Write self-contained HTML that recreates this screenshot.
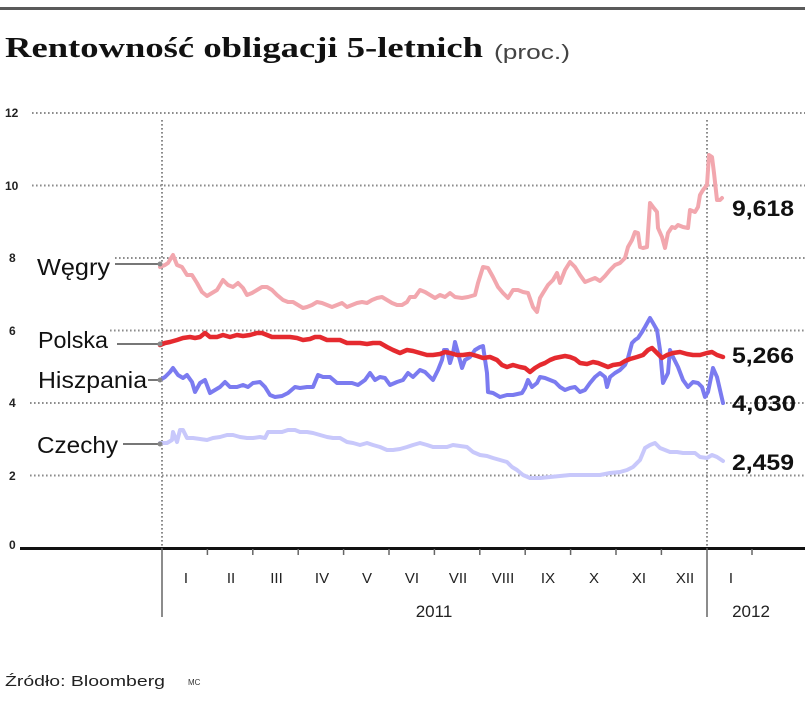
<!DOCTYPE html>
<html><head><meta charset="utf-8"><style>
html,body{margin:0;padding:0;background:#fff;}
svg{display:block;}
</style></head><body>
<svg width="805" height="706" viewBox="0 0 805 706" xmlns="http://www.w3.org/2000/svg">
<rect x="0" y="0" width="805" height="706" fill="#fff"/>
<rect x="0" y="7" width="805" height="3" fill="#5a5a5a"/>
<text x="5" y="57" font-family="Liberation Serif, serif" font-weight="bold" font-size="29" fill="#111" textLength="478" lengthAdjust="spacingAndGlyphs">Rentowność obligacji 5-letnich</text>
<text x="494" y="59" font-family="Liberation Sans, sans-serif" font-size="20" fill="#444" textLength="76" lengthAdjust="spacingAndGlyphs">(proc.)</text>

<g stroke="#8c8c8c" stroke-width="2" stroke-dasharray="1.6 2.4" fill="none">
<line x1="32" y1="113" x2="805" y2="113"/>
<line x1="32" y1="185.5" x2="805" y2="185.5"/>
<line x1="115" y1="258" x2="805" y2="258"/>
<line x1="110" y1="330.5" x2="805" y2="330.5"/>
<line x1="30" y1="403" x2="805" y2="403"/>
<line x1="30" y1="475.5" x2="805" y2="475.5"/>
<line x1="162" y1="120" x2="162" y2="548"/>
<line x1="707" y1="120" x2="707" y2="548"/>
</g>

<g font-family="Liberation Sans, sans-serif" font-weight="bold" font-size="12" fill="#222">
<text x="5" y="117">12</text>
<text x="5" y="190">10</text>
<text x="9" y="262">8</text>
<text x="9" y="335">6</text>
<text x="9" y="407">4</text>
<text x="9" y="480">2</text>
<text x="9" y="549">0</text>
</g>

<g fill="none" stroke-linejoin="round" stroke-linecap="round">
<polyline stroke="#f2a7ae" stroke-width="4" points="160,267 165,265 168,263 173,255 177,265 182,267 187,275 192,275 197,283 202,292 207,296 212,293 217,290 223,280 228,285 233,287 238,283 243,288 247,295 252,293 257,290 262,287 267,287 272,290 277,295 283,300 288,302 293,302 298,305 303,308 307,307 312,305 317,302 322,303 327,305 332,307 337,305 342,303 347,307 352,305 357,303 362,302 367,303 372,300 377,298 382,297 387,300 392,303 397,305 402,305 407,302 410,297 415,297 420,290 425,292 430,295 435,298 440,295 445,297 450,293 455,297 462,298 468,297 475,295 478,283 483,267 488,268 493,277 498,287 503,293 508,298 513,290 518,290 523,292 528,293 533,307 537,312 540,298 543,293 548,285 553,280 557,273 560,283 565,270 570,262 575,267 580,275 585,282 590,280 595,278 600,281 605,276 610,270 615,265 620,263 625,258 628,247 632,240 635,232 638,233 640,247 643,248 647,247 650,203 653,207 657,212 658,228 662,237 665,248 668,233 672,227 675,228 678,225 683,227 688,228 690,210 695,212 698,207 700,195 703,190 707,185 709,155 712,157 714,173 717,200 720,200 722,198"/>
<polyline stroke="#c8c8fb" stroke-width="4" points="160,443 167,443 172,440 173,432 177,442 180,430 183,430 187,438 193,438 200,439 207,440 213,438 220,437 227,435 233,435 240,437 247,438 253,438 260,437 265,438 268,432 275,432 282,432 288,430 295,430 300,432 307,432 313,433 320,435 327,437 333,438 340,438 347,442 353,443 360,445 367,443 373,445 380,447 387,450 393,450 400,449 407,447 413,445 420,443 427,445 433,447 440,447 447,447 453,445 460,446 467,447 473,452 480,455 487,456 493,458 500,460 507,462 512,467 517,470 523,475 530,478 540,478 550,477 560,476 570,475 580,475 590,475 600,475 610,473 620,472 627,470 633,467 640,460 645,448 650,445 655,443 660,448 665,450 670,452 677,452 683,453 690,453 695,453 700,457 707,458 712,455 717,457 723,461"/>
<polyline stroke="#7b7bf0" stroke-width="4" points="160,380 165,377 170,372 173,368 178,375 183,378 187,375 192,382 195,392 200,383 205,380 210,393 215,390 220,387 225,382 230,387 237,387 243,385 248,387 253,383 260,382 265,387 270,395 275,397 282,396 288,393 295,387 300,388 307,387 313,387 318,375 323,377 330,377 337,383 345,383 352,383 358,385 365,380 370,373 375,380 380,377 385,378 390,385 397,382 403,380 408,373 413,377 420,370 425,372 430,377 433,380 438,370 442,360 444,350 447,350 450,363 453,353 455,342 458,353 462,368 465,360 470,357 475,350 480,347 483,346 487,373 488,392 493,393 500,397 507,395 513,395 522,393 525,388 528,380 532,387 537,383 540,377 545,378 550,380 555,382 560,387 565,390 570,388 575,387 580,392 585,390 590,383 595,377 600,373 605,377 607,387 610,377 615,373 620,370 625,365 628,358 632,343 635,340 638,338 642,332 645,327 650,318 653,323 657,330 660,350 663,383 668,373 670,350 673,357 678,367 683,380 688,387 693,382 698,383 702,387 705,397 708,392 713,368 717,377 720,390 723,403"/>
<polyline stroke="#e52a2f" stroke-width="4.5" points="160,345 165,343 170,342 177,340 183,338 190,337 195,338 200,337 205,333 210,337 217,337 223,335 230,337 237,335 243,336 250,335 257,333 262,333 267,335 272,337 277,337 283,337 290,337 297,338 303,340 310,339 315,337 320,337 327,340 333,340 340,340 347,343 353,343 360,343 367,344 373,343 380,343 387,347 393,350 400,353 407,350 413,351 420,353 427,355 433,355 440,354 445,352 450,353 457,355 463,355 470,354 477,356 483,358 490,357 497,360 502,365 507,367 513,365 520,367 525,368 530,372 535,368 540,365 545,363 550,360 555,358 560,357 565,356 570,357 575,359 580,363 587,364 593,362 598,363 603,365 608,367 613,365 620,364 625,361 630,359 637,357 643,355 648,350 652,348 657,353 662,358 667,355 673,353 680,352 687,354 693,355 700,355 707,353 712,352 717,355 723,357"/>
</g>

<g stroke="#777" stroke-width="2" fill="none">
<line x1="115" y1="264" x2="158" y2="264"/>
<line x1="117" y1="344" x2="158" y2="344"/>
<line x1="148" y1="380" x2="158" y2="380"/>
<line x1="123" y1="444" x2="158" y2="444"/>
</g>
<g fill="#888">
<circle cx="160" cy="264" r="2.5"/>
<circle cx="160" cy="344" r="2.5"/>
<circle cx="160" cy="380" r="2.5"/>
<circle cx="160" cy="444" r="2.5"/>
</g>

<g font-family="Liberation Sans, sans-serif" font-size="23" fill="#111">
<text x="37" y="275" textLength="73" lengthAdjust="spacingAndGlyphs">Węgry</text>
<text x="38" y="348" textLength="70" lengthAdjust="spacingAndGlyphs">Polska</text>
<text x="38" y="388" textLength="109" lengthAdjust="spacingAndGlyphs">Hiszpania</text>
<text x="37" y="453" textLength="81" lengthAdjust="spacingAndGlyphs">Czechy</text>
</g>

<g font-family="Liberation Sans, sans-serif" font-weight="bold" font-size="22" fill="#111">
<text x="732" y="216" textLength="62" lengthAdjust="spacingAndGlyphs">9,618</text>
<text x="732" y="363" textLength="62" lengthAdjust="spacingAndGlyphs">5,266</text>
<text x="732" y="411" textLength="64" lengthAdjust="spacingAndGlyphs">4,030</text>
<text x="732" y="470" textLength="62" lengthAdjust="spacingAndGlyphs">2,459</text>
</g>

<rect x="20" y="547" width="785" height="3" fill="#111"/>
<g stroke="#666" stroke-width="1.5">
<line x1="162" y1="548" x2="162" y2="617"/>
<line x1="707" y1="548" x2="707" y2="617"/>
<line x1="207.4" y1="549" x2="207.4" y2="555"/>
<line x1="252.8" y1="549" x2="252.8" y2="555"/>
<line x1="298.2" y1="549" x2="298.2" y2="555"/>
<line x1="343.6" y1="549" x2="343.6" y2="555"/>
<line x1="389" y1="549" x2="389" y2="555"/>
<line x1="434.4" y1="549" x2="434.4" y2="555"/>
<line x1="479.8" y1="549" x2="479.8" y2="555"/>
<line x1="525.2" y1="549" x2="525.2" y2="555"/>
<line x1="570.6" y1="549" x2="570.6" y2="555"/>
<line x1="616" y1="549" x2="616" y2="555"/>
<line x1="661.4" y1="549" x2="661.4" y2="555"/>
<line x1="752" y1="549" x2="752" y2="555"/>
</g>

<g font-family="Liberation Sans, sans-serif" font-size="15" fill="#222" text-anchor="middle">
<text x="186" y="583">I</text>
<text x="231" y="583">II</text>
<text x="276.5" y="583">III</text>
<text x="322" y="583">IV</text>
<text x="367" y="583">V</text>
<text x="412" y="583">VI</text>
<text x="458" y="583">VII</text>
<text x="503" y="583">VIII</text>
<text x="548" y="583">IX</text>
<text x="594" y="583">X</text>
<text x="639" y="583">XI</text>
<text x="685" y="583">XII</text>
<text x="731" y="583">I</text>
<text x="434" y="617" font-size="17">2011</text>
<text x="751" y="617" font-size="17">2012</text>
</g>

<text x="5" y="686" font-family="Liberation Sans, sans-serif" font-size="15" fill="#222" textLength="160" lengthAdjust="spacingAndGlyphs">Źródło: Bloomberg</text>
<text x="188" y="685" font-family="Liberation Sans, sans-serif" font-size="8" fill="#333">MC</text>
</svg>
</body></html>
